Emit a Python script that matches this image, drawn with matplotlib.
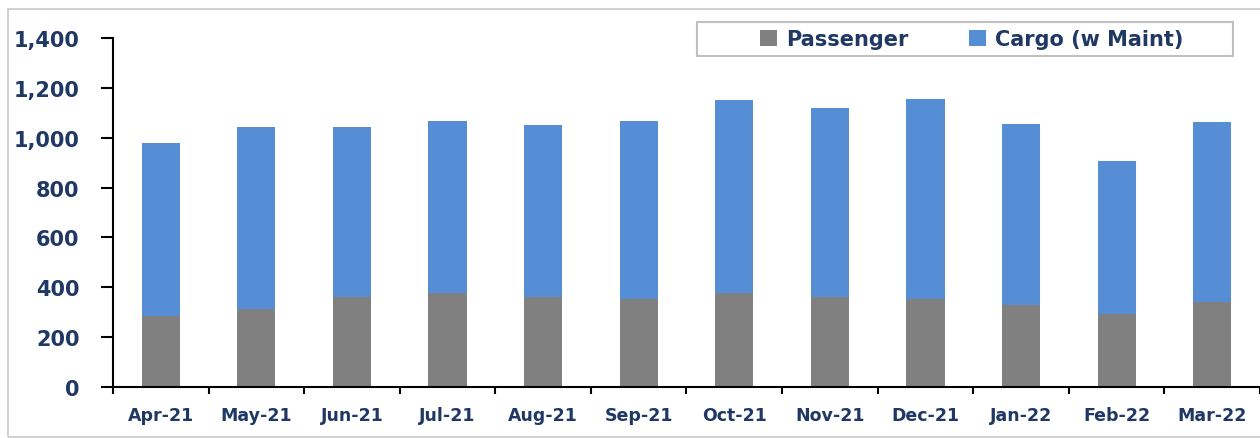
import matplotlib.pyplot as plt
from matplotlib.patches import Rectangle
import numpy as np

# months and stacked values
months = ["Apr-21", "May-21", "Jun-21", "Jul-21", "Aug-21", "Sep-21",
          "Oct-21", "Nov-21", "Dec-21", "Jan-22", "Feb-22", "Mar-22"]
passenger = [286, 314, 362, 378, 362, 353, 378, 362, 352, 328, 292, 342]
cargo = [694, 730, 680, 688, 688, 713, 773, 757, 803, 727, 616, 721]

text_col = "#1F3864"
grey = "#808080"
blue = "#558ED5"

fig = plt.figure(figsize=(12.6, 4.39), dpi=100)
ax = fig.add_axes([113 / 1260, 1 - 388 / 439, 1 - 113 / 1260, 349 / 439])

x = np.arange(len(months))
ax.bar(x, passenger, width=0.4, color=grey, label="Passenger", zorder=2)
ax.bar(x, cargo, width=0.4, bottom=passenger, color=blue, label="Cargo (w Maint)", zorder=2)

ax.set_xlim(-0.5, len(months) - 0.5)
ax.set_ylim(0, 1400)
ax.set_yticks(range(0, 1401, 200))
ax.set_yticklabels([f"{v:,}" for v in range(0, 1401, 200)])

# labels at centres, tick marks at category boundaries
ax.set_xticks(x)
ax.set_xticklabels(months)
ax.set_xticks(np.arange(-0.5, len(months), 1), minor=True)
ax.tick_params(axis="x", which="major", length=0, pad=14)
ax.tick_params(axis="x", which="minor", length=5, width=1.5, direction="out")
ax.tick_params(axis="y", length=9, width=1.5, direction="out", pad=15)

for lab in ax.get_xticklabels():
    lab.set_fontsize(12.5)
    lab.set_fontweight("bold")
    lab.set_color(text_col)
for lab in ax.get_yticklabels():
    lab.set_fontsize(15)
    lab.set_fontweight("bold")
    lab.set_color(text_col)

ax.spines["top"].set_visible(False)
ax.spines["right"].set_visible(False)
ax.spines["left"].set_linewidth(1.5)
ax.spines["bottom"].set_linewidth(1.5)

# outer frame of the chart area
fig.patches.append(Rectangle((8 / 1260, 1 / 439), 1.0, 1 - 11 / 439,
                             transform=fig.transFigure, fill=False,
                             edgecolor="#C8C8C8", linewidth=1.2))

# legend box
fig.patches.append(Rectangle((697 / 1260, 1 - 57 / 439), 536 / 1260, 34 / 439,
                             transform=fig.transFigure, fill=False,
                             edgecolor="#C0C0C0", linewidth=1.5))
leg = fig.legend(loc="center left", bbox_to_anchor=(752 / 1260, 1 - 40 / 439),
                 ncol=2, frameon=False, handlelength=0.8, handleheight=0.8,
                 handletextpad=0.45, columnspacing=2.9, borderaxespad=0,
                 prop={"size": 15, "weight": "bold"})
for t in leg.get_texts():
    t.set_color(text_col)

plt.savefig("out.png", dpi=100)
